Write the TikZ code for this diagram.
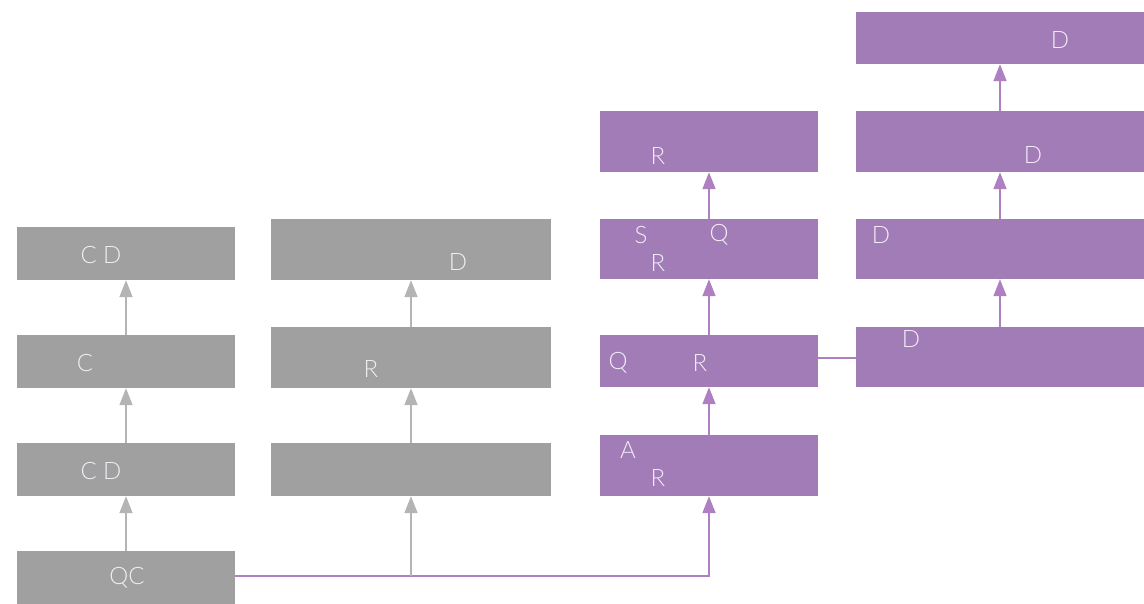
\documentclass[tikz,border=0pt]{standalone}
\usepackage{fontspec}
\setmainfont{Lato}[UprightFont=* Light]
\usepackage{xcolor}
\usetikzlibrary{arrows.meta}

\definecolor{boxgrey}{HTML}{9FA09F}
\definecolor{boxpurple}{HTML}{A27CB6}
\definecolor{linegrey}{HTML}{B4B4B4}
\definecolor{linepurple}{HTML}{AE80C2}
\definecolor{textlight}{HTML}{F2ECF6}

\tikzset{
	greybox/.style={fill=boxgrey,draw=none,minimum width=218pt,minimum height=53pt,inner sep=0pt},
	purplebox/.style={fill=boxpurple,draw=none,minimum width=218pt,minimum height=61pt,inner sep=0pt},
	boxtext/.style={text=textlight,inner sep=0pt,font=\fontsize{24}{28}\selectfont},
	greyarrow/.style={draw=linegrey,line width=1.6pt,-{Triangle[width=13pt,length=17pt]}},
	purplearrow/.style={draw=linepurple,line width=1.6pt,-{Triangle[width=13pt,length=17pt]}},
	purpleline/.style={draw=linepurple,line width=2pt}
}

\begin{document}
\begin{tikzpicture}[x=1pt,y=-1pt]
		\useasboundingbox (0,0) rectangle (1144,604);
		% left column
		\node[greybox] (qc) at (126,577.5) {};
		\node[greybox] (cd1) at (126,469.5) {};
		\node[greybox] (c1) at (126,361.5) {};
		\node[greybox] (cd2) at (126,253.5) {};
		\node[boxtext] (qctext) at (127,578) {QC};
		\node[boxtext] (cd1text) at (101,471) {C D};
		\node[boxtext] (c1text) at (85,363) {C};
		\node[boxtext] (cd2text) at (101,255) {C D};
		\draw[greyarrow] (qc) -- (cd1);
		\draw[greyarrow] (cd1) -- (c1);
		\draw[greyarrow] (c1) -- (cd2);
		% second column
		\node[greybox,minimum width=280pt] (g1) at (411,469.5) {};
		\node[greybox,minimum width=280pt,minimum height=61pt] (g2) at (411,357.5) {};
		\node[greybox,minimum width=280pt,minimum height=61pt] (g3) at (411,249.5) {};
		\node[boxtext] (g2text) at (371,369) {R};
		\node[boxtext] (g3text) at (458,262) {D};
		\draw[greyarrow] (g1) -- (g2);
		\draw[greyarrow] (g2) -- (g3);
		% third column
		\node[purplebox] (ar) at (709,465.5) {};
		\node[purplebox,minimum height=52pt] (qr) at (709,361) {};
		\node[purplebox,minimum height=60pt] (sqr) at (709,249) {};
		\node[purplebox] (r1) at (709,141.5) {};
		\node[boxtext] (artext1) at (628,450) {A};
		\node[boxtext] (artext2) at (658,478) {R};
		\node[boxtext] (qrtext1) at (618,363) {Q};
		\node[boxtext] (qrtext2) at (700,363) {R};
		\node[boxtext] (sqrtext1) at (641,235) {S};
		\node[boxtext] (sqrtext2) at (719,235) {Q};
		\node[boxtext] (sqrtext3) at (658,263) {R};
		\node[boxtext] (r1text) at (658,156) {R};
		\draw[purplearrow] (ar) -- (qr);
		\draw[purplearrow] (qr) -- (sqr);
		\draw[purplearrow] (sqr) -- (r1);
		% fourth column
		\node[purplebox,minimum width=288pt,minimum height=60pt] (d1) at (1000,357) {};
		\node[purplebox,minimum width=288pt,minimum height=60pt] (d2) at (1000,249) {};
		\node[purplebox,minimum width=288pt] (d3) at (1000,141.5) {};
		\node[purplebox,minimum width=288pt,minimum height=52pt] (d4) at (1000,38) {};
		\node[boxtext] (d1text) at (911,339) {D};
		\node[boxtext] (d2text) at (881,235) {D};
		\node[boxtext] (d3text) at (1033,155) {D};
		\node[boxtext] (d4text) at (1060,40) {D};
		\draw[purplearrow] (d1) -- (d2);
		\draw[purplearrow] (d2) -- (d3);
		\draw[purplearrow] (d3) -- (d4);
		% links between columns
		\coordinate (qcout) at ([yshift=1.5pt]qc.east);
		\coordinate (split) at (g1.south |- qcout);
		\draw[purplearrow,line width=2pt] (qcout) -| (ar.south);
		\draw[greyarrow] (split) -- (g1);
		\draw[purpleline] ([yshift=3pt]qr.east) -- ([yshift=3pt]qr.east -| d1.west);
	\end{tikzpicture}
\end{document}
